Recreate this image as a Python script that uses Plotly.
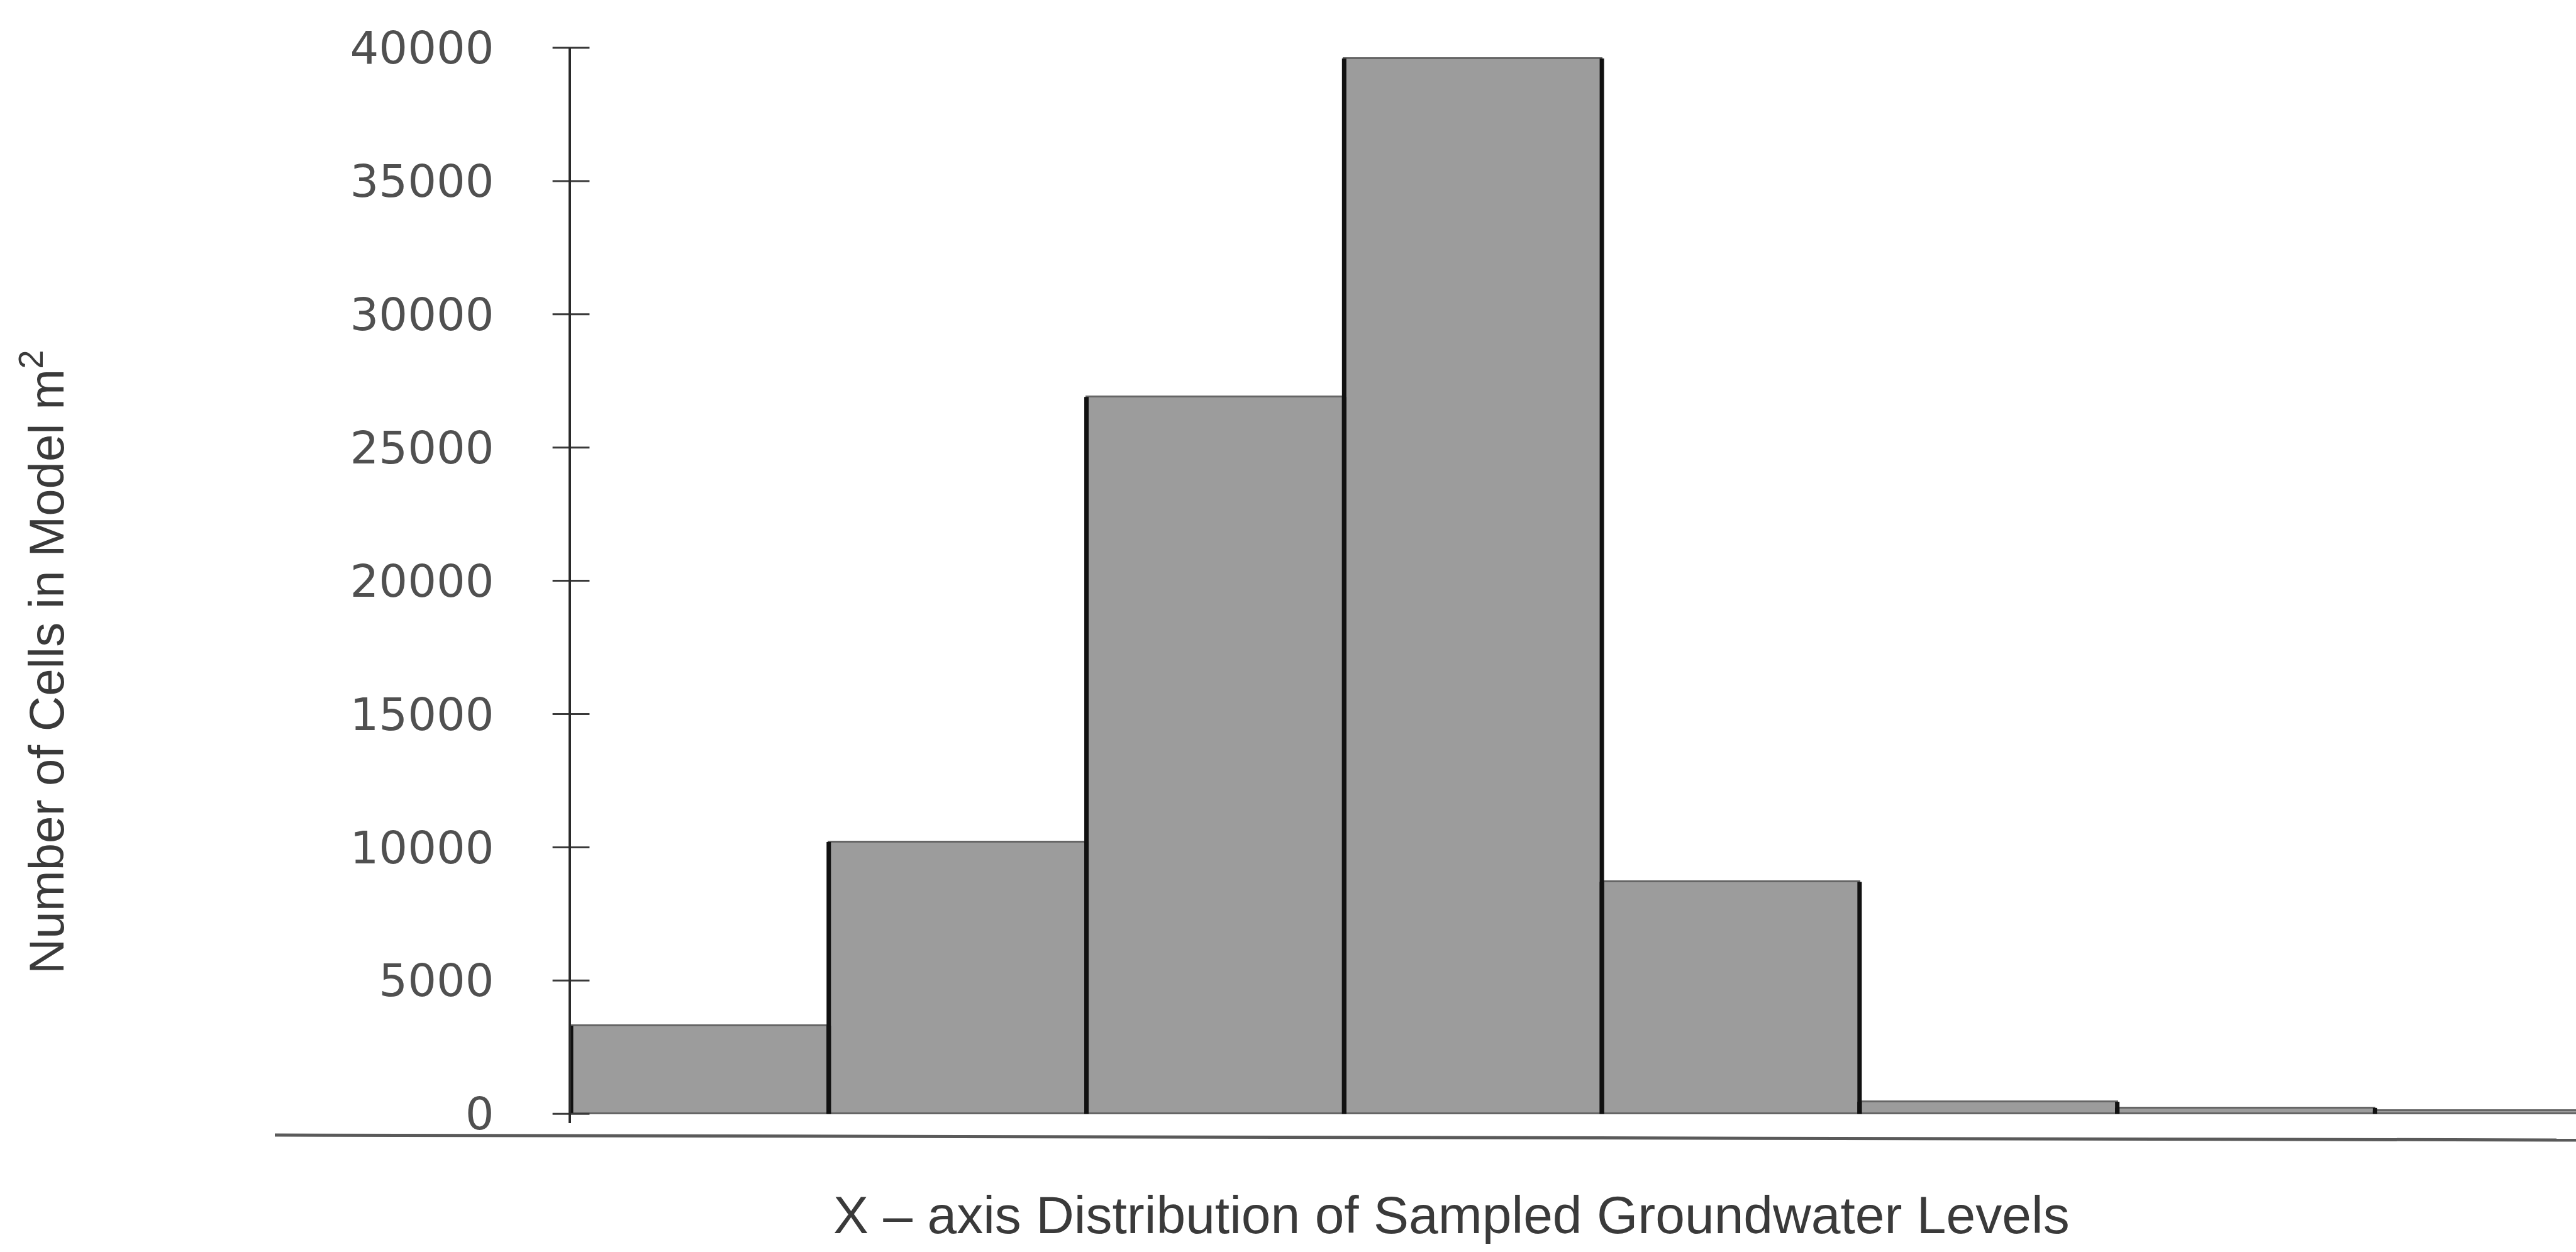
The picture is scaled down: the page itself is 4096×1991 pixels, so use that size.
import plotly.graph_objects as go

# Histogram bins of sampled groundwater levels (bin index) and cell counts
bins = [0, 1, 2, 3, 4, 5, 6, 7]
cell_counts = [3300, 10200, 26900, 39600, 8700, 450, 220, 120]
y_ticks = [0, 5000, 10000, 15000, 20000, 25000, 30000, 35000, 40000]
y_tick_labels = ["0", "5000", "10000", "15000", "20000", "25000", "30000", "35000", "40000"]

x_title = "X \u2013 axis Distribution of Sampled Groundwater Levels"
y_title = "Number of Cells in Model m<sup>2</sup>"

W, H = 4096, 1991
ML, MT, MB = 908, 76, 205
BAR_FILL = "#9c9c9c"
EDGE = "#111111"
TEXT = "#505050"
X_MIN, X_MAX = -0.5, 7.28
YR = [-350, 40000]

fig = go.Figure()

# histogram bars: grey fill, soft darker top edge
fig.add_trace(go.Bar(
    x=bins, y=cell_counts, width=1.0,
    marker=dict(color=BAR_FILL, line=dict(color="#666666", width=3)),
    hoverinfo="skip", showlegend=False,
))

# solid black side edges of every bar, derived from the bin values
ex, ey = [], []
for b, c in zip(bins, cell_counts):
    for side in (-0.5, 0.5):
        ex += [b + side, b + side, None]
        ey += [0, c, None]
fig.add_trace(go.Scatter(
    x=ex, y=ey, mode="lines",
    line=dict(color=EDGE, width=7),
    hoverinfo="skip", showlegend=False,
))

# tick marks that cross the value axis on both sides
fig.add_trace(go.Scatter(
    x=[X_MIN] * len(y_ticks), y=y_ticks, mode="markers",
    marker=dict(symbol="line-ew", size=42, line=dict(color="#3a3a3a", width=3)),
    cliponaxis=False, hoverinfo="skip", showlegend=False,
))

fig.update_layout(
    width=W, height=H,
    margin=dict(l=ML, r=0, t=MT, b=MB, pad=0),
    paper_bgcolor="white", plot_bgcolor="white",
    bargap=0,
    xaxis=dict(range=[X_MIN, X_MAX], visible=False, fixedrange=True),
    yaxis=dict(
        range=YR, tickmode="array", tickvals=y_ticks, ticktext=y_tick_labels,
        ticks="", showline=True, linecolor="#2a2a2a", linewidth=4,
        showgrid=False, zeroline=False,
        tickfont=dict(family="DejaVu Sans", size=72, color=TEXT),
        ticklabelstandoff=104,
    ),
    font=dict(family="Liberation Sans, Arial, sans-serif", color=TEXT),
)

plot_w = W - ML
plot_h = H - MT - MB

def px_to_paper_x(px):
    return (px - ML) / plot_w

def px_to_paper_y(py):
    return (H - MB - py) / plot_h

# lower baseline rule running under the chart
fig.add_shape(
    type="line", xref="paper", yref="paper",
    x0=px_to_paper_x(437), y0=px_to_paper_y(1805),
    x1=px_to_paper_x(4096), y1=px_to_paper_y(1813),
    line=dict(color="#5a5a5a", width=5),
)

fig.add_annotation(
    text=x_title, xref="paper", yref="paper",
    x=px_to_paper_x(2308), y=px_to_paper_y(1932),
    xanchor="center", yanchor="middle", showarrow=False,
    font=dict(family="Liberation Sans, Arial, sans-serif", size=84, color="#3a3a3a"),
)
fig.add_annotation(
    text=y_title, xref="paper", yref="paper",
    x=px_to_paper_x(68), y=px_to_paper_y(1053),
    xanchor="center", yanchor="middle", textangle=-90, showarrow=False,
    font=dict(family="Liberation Sans, Arial, sans-serif", size=78, color="#3a3a3a"),
)

fig.write_html("out.html")
